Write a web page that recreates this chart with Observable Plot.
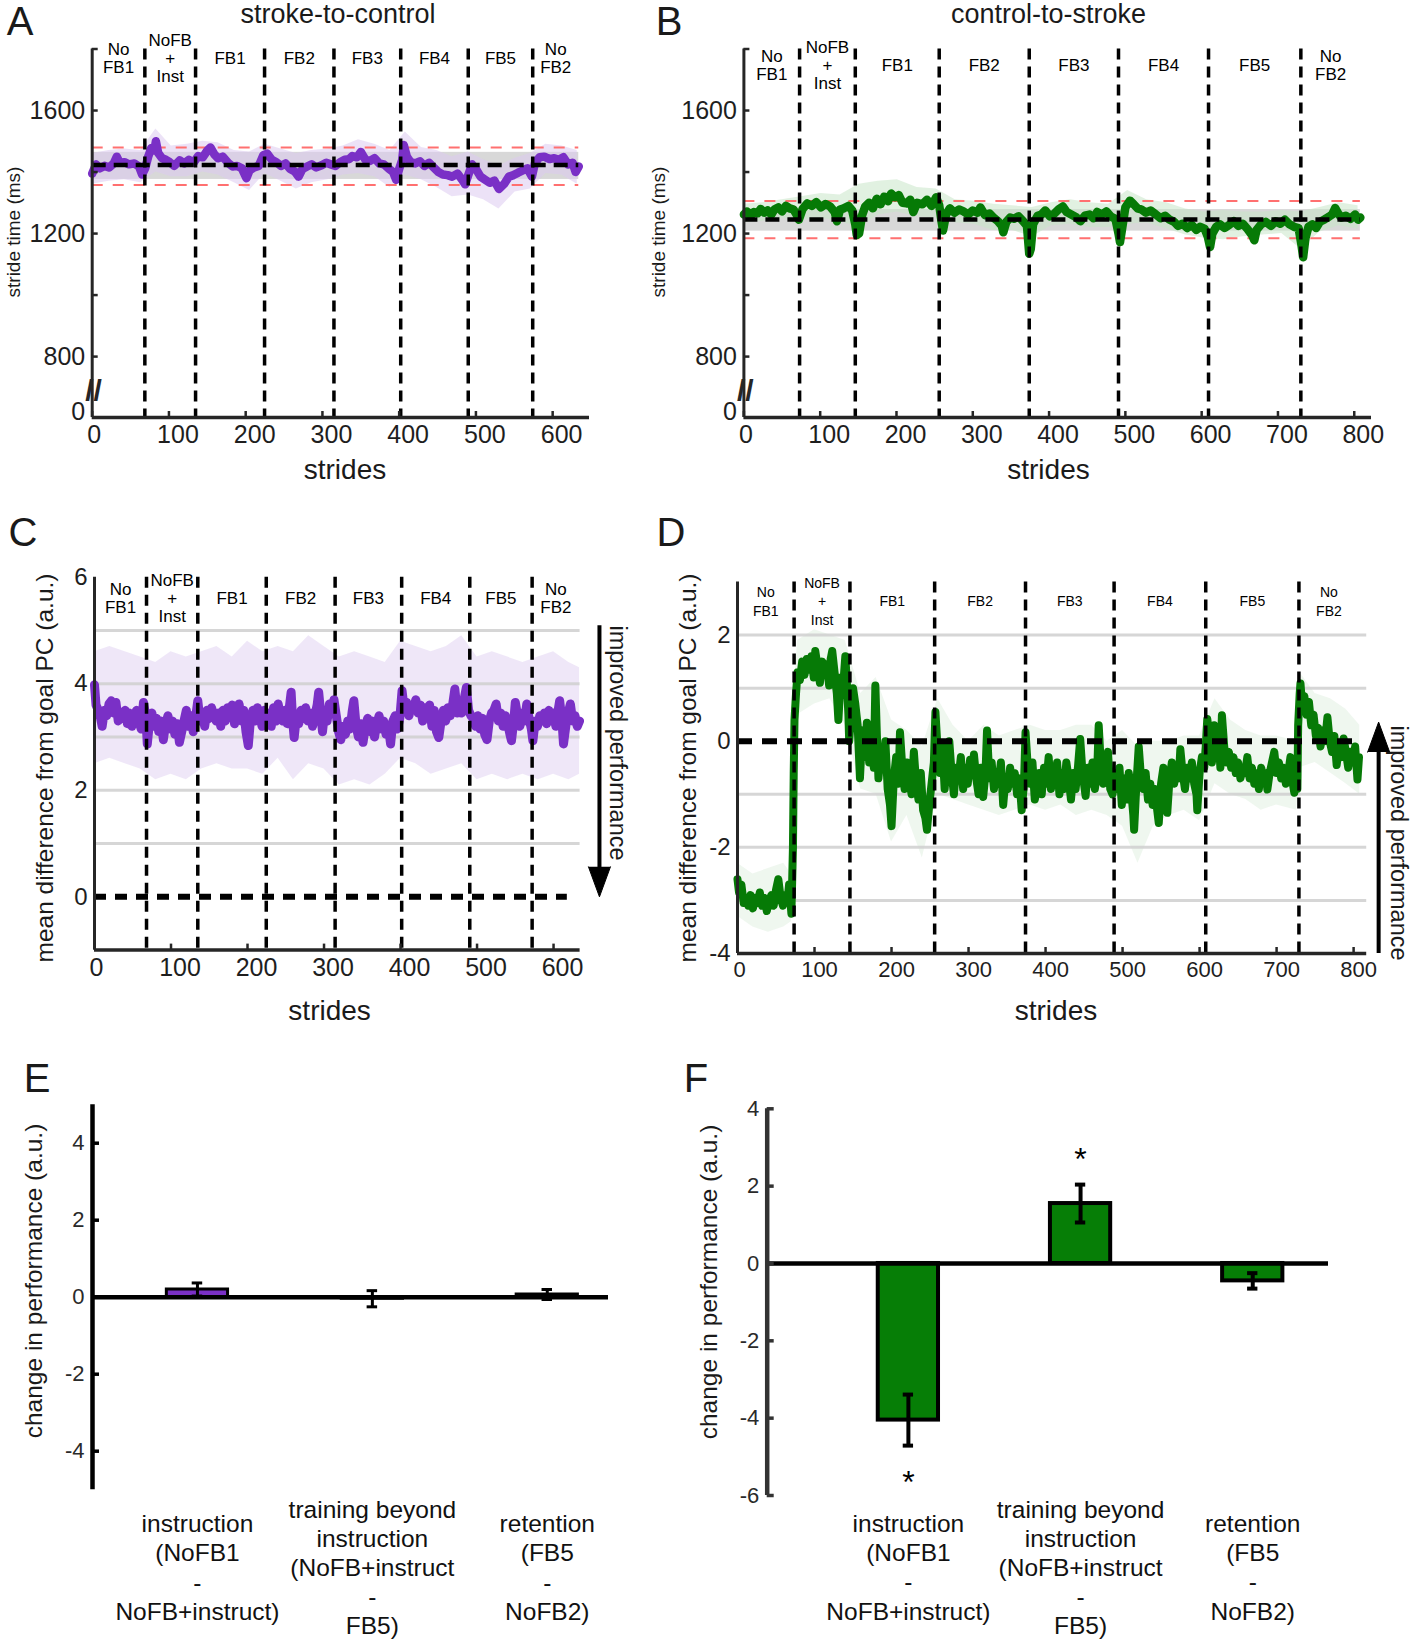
<!DOCTYPE html>
<html>
<head>
<meta charset="utf-8">
<script src="https://cdn.jsdelivr.net/npm/d3@7"></script>
<script src="https://cdn.jsdelivr.net/npm/@observablehq/plot@0.6"></script>
<style>
  html, body { margin: 0; padding: 0; background: #fff; }
  #fig { position: relative; width: 1412px; height: 1639px; overflow: hidden; background: #fff;
         font-family: "Liberation Sans", Arial, Helvetica, sans-serif; color: #1a1a1a; }
  #fig svg { position: absolute; }
  .lbl { position: absolute; white-space: nowrap; line-height: 1; }
</style>
</head>
<body>
<div id="fig"></div>
<script>
// ================= DATA =================
const segmentNames = ["No\nFB1", "NoFB\n+\nInst", "FB1", "FB2", "FB3", "FB4", "FB5", "No\nFB2"];

// ---- Panel A: stroke-to-control, stride time (ms) ----
const aBounds = [68.6, 134.7, 224.6, 315, 402, 490, 574];
const aSeries = [[0,1395],[5,1425],[10,1412],[16,1420],[22,1415],[28,1428],[32,1450],[36,1430],[42,1432],[48,1425],
 [55,1428],[61,1418],[65,1392],[69,1412],[73,1450],[77,1478],[81,1470],[83,1500],[86,1462],[91,1445],
 [96,1440],[101,1432],[107,1420],[114,1438],[120,1428],[126,1440],[132,1430],[138,1452],[144,1448],[150,1470],
 [154,1480],[159,1458],[164,1445],[170,1450],[177,1430],[183,1418],[189,1420],[195,1412],[201,1380],[205,1405],
 [211,1415],[217,1420],[223,1455],[228,1460],[234,1440],[240,1432],[246,1420],[252,1428],[258,1410],[264,1402],
 [269,1385],[274,1410],[280,1418],[286,1425],[292,1415],[299,1422],[305,1430],[311,1425],[317,1420],[323,1432],
 [329,1440],[335,1442],[339,1452],[345,1448],[350,1465],[356,1440],[362,1436],[368,1445],[374,1428],[380,1425],
 [386,1412],[392,1400],[396,1375],[400,1410],[404,1440],[406,1488],[410,1450],[415,1432],[421,1428],[427,1435],
 [433,1420],[439,1430],[445,1415],[451,1400],[457,1392],[463,1390],[469,1385],[476,1395],[482,1375],[486,1360],
 [490,1390],[495,1425],[500,1410],[506,1385],[512,1375],[518,1365],[524,1372],[530,1345],[537,1362],[543,1385],
 [549,1390],[555,1398],[561,1405],[567,1412],[573,1385],[577,1430],[583,1448],[589,1450],[596,1442],[602,1445],
 [608,1440],[614,1448],[620,1425],[626,1430],[630,1400],[634,1418]];
const aBand = [[0,1360,1460],[22,1370,1470],[42,1375,1475],[63,1365,1470],[83,1400,1540],[103,1385,1485],[124,1385,1490],
 [144,1400,1500],[164,1390,1495],[185,1365,1470],[205,1340,1465],[225,1395,1490],[246,1370,1475],[266,1345,1460],
 [286,1365,1470],[307,1375,1475],[327,1390,1485],[347,1395,1505],[368,1385,1490],[388,1350,1470],[408,1390,1530],
 [429,1375,1480],[449,1350,1470],[469,1320,1450],[490,1325,1465],[510,1310,1440],[530,1280,1420],[551,1335,1445],
 [571,1345,1460],[591,1395,1490],[612,1390,1485],[632,1360,1470]];
const aMean = [1423];
const aLimits = [1358, 1480];
const aGrayBand = [1376, 1464];

// ---- Panel B: control-to-stroke, stride time (ms) ----
const bBounds = [73, 146, 256, 374, 491, 609, 730];
const bSeries = [[0,1262],[4,1272],[9,1258],[13,1270],[18,1266],[22,1280],[27,1268],[31,1275],[36,1262],[40,1278],
 [45,1285],[50,1272],[55,1290],[60,1282],[65,1278],[69,1262],[72,1245],[77,1280],[83,1298],[89,1290],
 [95,1302],[101,1285],[107,1296],[113,1288],[119,1270],[122,1240],[126,1278],[131,1282],[137,1290],[142,1275],
 [146,1230],[148,1195],[151,1200],[155,1260],[159,1288],[164,1300],[169,1282],[174,1313],[179,1295],[184,1320],
 [189,1305],[193,1330],[198,1318],[203,1325],[208,1300],[213,1298],[218,1310],[222,1270],[227,1300],[234,1295],
 [240,1310],[246,1290],[252,1318],[256,1292],[259,1240],[261,1210],[265,1262],[270,1282],[276,1268],[282,1278],
 [288,1272],[294,1262],[300,1275],[306,1268],[310,1285],[316,1260],[322,1265],[328,1250],[333,1240],[338,1225],
 [340,1204],[344,1238],[349,1252],[354,1248],[360,1256],[366,1240],[371,1225],[374,1134],[376,1150],[379,1230],
 [385,1258],[390,1262],[395,1275],[401,1256],[407,1265],[413,1280],[418,1288],[423,1270],[429,1262],[435,1254],
 [441,1240],[447,1258],[453,1262],[458,1250],[463,1270],[469,1262],[475,1272],[481,1255],[487,1248],[491,1200],
 [493,1172],[496,1220],[500,1285],[506,1307],[511,1295],[516,1282],[521,1278],[527,1268],[533,1275],[540,1262],
 [546,1250],[552,1258],[558,1245],[564,1238],[569,1225],[575,1232],[581,1218],[587,1228],[593,1212],[598,1222],
 [604,1215],[608,1190],[611,1156],[614,1200],[619,1222],[624,1230],[630,1218],[636,1228],[642,1240],[648,1225],
 [654,1232],[660,1215],[666,1195],[669,1178],[672,1212],[678,1230],[684,1238],[691,1225],[697,1240],[703,1232],
 [709,1245],[715,1230],[721,1222],[727,1218],[731,1160],[733,1123],[736,1185],[740,1222],[745,1230],[750,1218],
 [755,1238],[761,1246],[767,1255],[771,1262],[775,1283],[779,1265],[783,1252],[789,1258],[795,1248],[801,1262],
 [805,1245],[808,1252]];
const bBand = [[0,1235,1295],[25,1240,1300],[50,1250,1310],[75,1245,1320],[101,1250,1330],[126,1240,1325],[151,1220,1360],
 [176,1260,1370],[201,1270,1375],[227,1255,1350],[252,1250,1345],[277,1235,1310],[302,1230,1305],[327,1210,1295],
 [352,1210,1290],[378,1190,1285],[403,1225,1300],[428,1230,1310],[453,1220,1300],[478,1220,1295],[503,1230,1340],
 [528,1235,1310],[554,1215,1300],[579,1195,1280],[604,1185,1270],[629,1180,1275],[654,1190,1270],[680,1195,1270],
 [705,1200,1275],[730,1150,1270],[755,1205,1285],[780,1225,1300],[805,1215,1290]];
const bMean = [1246];
const bLimits = [1185, 1306];
const bGrayBand = [1208, 1278];

// stride-time axis: broken axis, visible part spans 800..1800 ms, bottom of axis labelled 0
const timeTickMarks = [800, 1000, 1200, 1400, 1600, 1800];
const timeTickLabels = [800, 1200, 1600];
const timeBreakLabel = ["0"];
const strideTicks600 = [0, 100, 200, 300, 400, 500, 600];
const strideTicks800 = [0, 100, 200, 300, 400, 500, 600, 700, 800];

// ---- Panel C: stroke-to-control, mean difference from goal PC ----
const cBounds = [68, 135, 224.5, 314.5, 401.5, 490.5, 572];
const cSeries = [[0,3.98],[2,3.6],[5,3.5],[8,3.35],[10,3.2],[13,3.5],[16,3.4],[19,3.62],[22,3.68],[25,3.45],[28,3.65],[31,3.3],
 [34,3.45],[37,3.35],[40,3.5],[43,3.25],[46,3.45],[49,3.2],[52,3.4],[55,3.5],[58,3.3],[61,3.15],[64,3.65],[67,3.4],
 [69,2.87],[72,3.3],[75,3.45],[78,3.2],[81,3.35],[84,3.1],[87,3.3],[90,2.95],[93,3.25],[96,3.4],[99,3.15],[102,3.3],
 [105,3.05],[108,3.25],[111,2.9],[114,3.1],[117,3.3],[120,3.5],[123,3.2],[126,3.4],[129,3.1],[132,3.35],[135,3.68],
 [138,3.3],[141,3.45],[144,3.2],[147,3.5],[150,3.35],[153,3.55],[156,3.4],[159,3.3],[162,3.45],[165,3.2],[168,3.5],
 [171,3.3],[174,3.55],[177,3.4],[180,3.6],[183,3.25],[186,3.45],[189,3.62],[192,3.3],[195,3.5],[198,3.1],[201,2.84],
 [204,3.35],[207,3.5],[210,3.3],[213,3.55],[216,3.4],[219,3.2],[222,3.5],[225,3.35],[228,3.45],[231,3.2],[234,3.55],
 [237,3.3],[240,3.62],[243,3.4],[246,3.3],[249,3.5],[252,3.25],[255,3.6],[257,3.84],[259,3.3],[261,2.99],[264,3.4],
 [267,3.25],[270,3.5],[273,3.35],[276,3.55],[279,3.3],[282,3.45],[285,3.2],[288,3.4],[291,3.6],[293,3.84],[296,3.4],
 [298,3.1],[301,3.5],[304,3.3],[307,3.62],[310,3.45],[313,3.7],[316,3.4],[319,3.1],[322,2.95],[325,3.2],[328,3.05],
 [331,3.3],[334,3.15],[337,3.5],[339,3.68],[342,3.2],[345,3.0],[348,3.25],[351,2.9],[354,3.2],[357,3.35],[360,3.1],
 [363,3.3],[366,3.0],[369,3.25],[372,3.4],[375,3.15],[378,3.3],[381,3.05],[384,3.2],[387,2.87],[390,3.3],[393,3.4],
 [396,3.15],[399,3.35],[402,3.87],[405,3.5],[408,3.65],[411,3.4],[414,3.6],[417,3.55],[420,3.7],[423,3.45],[426,3.6],
 [429,3.3],[432,3.55],[435,3.4],[438,3.6],[441,3.2],[444,3.5],[447,3.1],[450,2.99],[453,3.3],[456,3.5],[459,3.3],
 [462,3.55],[465,3.4],[468,3.6],[471,3.9],[474,3.45],[477,3.6],[480,3.45],[483,3.7],[486,3.93],[489,3.5],[492,3.4],
 [495,3.35],[498,3.2],[501,3.4],[504,3.15],[507,3.35],[510,3.05],[513,2.95],[516,3.3],[519,3.45],[522,3.5],[525,3.62],
 [528,3.3],[531,3.45],[534,3.2],[537,3.4],[540,3.25],[543,3.05],[545,2.93],[548,3.3],[550,3.65],[553,3.4],[556,3.2],
 [559,3.45],[562,3.3],[565,3.62],[568,3.35],[571,3.15],[573,2.93],[576,3.3],[579,3.2],[582,3.4],[585,3.3],[588,3.45],
 [591,3.25],[594,3.5],[597,3.3],[600,3.45],[603,3.2],[606,3.5],[608,3.68],[611,3.3],[613,2.87],[616,3.2],[619,3.45],
 [622,3.62],[625,3.3],[628,3.4],[631,3.2],[634,3.3]];
const cBand = [[0,2.5,4.6],[20,2.6,4.7],[40,2.5,4.6],[60,2.4,4.5],[80,2.2,4.4],[100,2.3,4.6],[120,2.2,4.5],[140,2.4,4.6],
 [160,2.5,4.7],[180,2.4,4.5],[200,2.4,4.8],[220,2.3,4.6],[240,2.6,4.7],[260,2.2,4.6],[280,2.5,4.9],[300,2.4,4.7],
 [320,2.1,4.5],[340,2.2,4.6],[360,2.1,4.5],[380,2.3,4.4],[400,2.6,4.8],[420,2.5,4.7],[440,2.3,4.6],[460,2.4,4.7],
 [480,2.5,4.9],[500,2.2,4.5],[520,2.3,4.6],[540,2.2,4.5],[560,2.3,4.4],[580,2.2,4.5],[600,2.3,4.6],[620,2.2,4.4],[634,2.3,4.3]];
const cGrid = [1, 2, 3, 4, 5];
const cYTicks = [0, 2, 4, 6];

// ---- Panel D: control-to-stroke, mean difference from goal PC ----
const dBounds = [73.5, 146, 256, 374, 489, 608, 729];
const dSeries = [[0,-2.6],[2,-2.85],[5,-2.7],[8,-3.05],[11,-2.95],[14,-3.1],[17,-2.9],[20,-3.15],[23,-2.95],[26,-3.05],
 [29,-2.85],[32,-3.1],[35,-2.95],[38,-3.2],[41,-3.0],[44,-2.9],[47,-3.1],[50,-2.8],[53,-2.6],[56,-2.95],[59,-3.1],
 [62,-2.9],[65,-3.0],[67,-2.7],[70,-3.25],[72,-2.0],[73,-0.6],[74,0.4],[76,0.9],[78,1.3],[81,1.15],[84,1.5],[87,1.25],
 [90,1.55],[93,1.35],[96,1.6],[99,1.2],[101,1.7],[104,1.4],[107,1.1],[110,1.5],[113,1.25],[116,1.45],[119,1.05],
 [121,1.55],[123,1.7],[126,1.3],[129,0.9],[131,0.4],[134,1.2],[137,1.0],[140,1.6],[142,1.1],[144,0.5],[145,0.0],
 [147,0.4],[150,1.0],[153,0.7],[156,0.3],[159,-0.7],[162,0.2],[165,-0.3],[168,0.35],[171,-0.4],[174,-0.1],[177,-0.5],
 [179,1.05],[181,0.1],[183,-0.7],[186,-0.2],[189,-0.5],[192,0.0],[195,-0.9],[198,-1.2],[200,-1.6],[203,-0.7],[206,-0.3],
 [209,-0.8],[211,0.17],[214,-0.5],[217,-0.9],[220,-0.4],[223,-0.7],[226,-1.0],[229,-0.2],[232,-0.8],[235,-1.1],
 [238,-0.6],[241,-1.3],[244,-1.45],[246,-1.67],[249,-1.2],[252,-0.8],[255,-0.4],[257,0.55],[260,-0.2],[263,-0.6],
 [266,-0.1],[269,-0.9],[272,-0.3],[275,0.0],[278,-0.6],[281,-1.0],[284,-0.5],[287,-0.7],[290,-0.3],[293,-0.9],
 [296,-0.5],[299,-0.8],[302,-0.35],[305,-0.6],[307,-0.25],[310,-0.7],[313,-1.0],[316,-0.5],[319,-1.05],[322,-0.6],
 [324,0.2],[327,-0.7],[330,-0.4],[333,-0.9],[336,-0.6],[339,-0.8],[342,-0.4],[345,-1.2],[348,-0.7],[351,-0.9],
 [354,-0.5],[357,-0.8],[360,-0.6],[363,-1.0],[366,-0.7],[369,-1.3],[372,-0.8],[374,0.17],[377,-0.5],[380,-0.8],
 [383,-0.4],[386,-1.1],[389,-0.9],[392,-0.6],[395,-1.0],[398,-0.5],[401,-0.8],[404,-0.3],[407,-0.9],[410,-0.6],
 [413,-0.7],[415,-0.4],[418,-1.0],[421,-0.6],[424,-0.9],[427,-0.4],[430,-0.7],[433,-1.1],[436,-0.6],[439,-0.9],
 [442,-0.5],[445,0.04],[448,-0.6],[452,-1.03],[455,-0.5],[458,-0.8],[461,-0.4],[464,-0.9],[467,-0.6],[469,0.3],
 [472,-0.5],[475,-0.8],[478,-0.4],[481,-0.2],[484,-0.9],[487,-1.0],[490,-0.6],[493,-0.9],[496,-0.5],[499,-1.2],
 [502,-0.7],[505,-1.1],[508,-0.6],[511,-0.9],[514,-1.4],[515,-1.67],[518,-0.8],[521,-0.1],[524,-0.7],[527,-0.9],
 [530,-0.6],[533,-1.1],[536,-0.8],[539,-1.2],[542,-0.9],[545,-1.3],[547,-1.54],[550,-0.8],[553,-0.5],[556,-0.9],
 [558,-1.35],[561,-0.7],[564,-0.4],[567,-0.8],[570,-0.5],[573,-0.7],[575,-0.15],[578,-0.6],[581,-0.9],[584,-0.5],
 [587,-0.7],[590,-0.4],[593,-0.8],[596,-1.0],[597,-1.3],[600,-0.6],[603,-0.3],[606,-0.5],[608,-0.1],[610,0.42],
 [613,0.1],[616,-0.4],[619,0.3],[622,-0.2],[625,0.0],[627,-0.5],[629,0.49],[632,-0.1],[635,-0.4],[638,-0.2],
 [641,-0.5],[644,-0.3],[647,-0.6],[650,-0.4],[653,-0.7],[656,-0.5],[659,-0.6],[662,-0.3],[665,-0.7],[668,-0.5],
 [671,-0.8],[674,-0.6],[677,-0.9],[680,-0.5],[683,-0.7],[686,-0.6],[688,-0.91],[691,-0.6],[694,-0.4],[697,-0.2],
 [700,-0.6],[703,-0.4],[706,-0.7],[709,-0.5],[712,-0.8],[715,-0.6],[718,-0.3],[721,-0.8],[723,-0.97],[725,-0.6],
 [727,-0.9],[728,0.3],[730,0.9],[731,1.09],[733,0.7],[736,0.85],[739,0.5],[742,0.74],[745,0.3],[748,0.5],[751,0.1],
 [754,0.25],[757,-0.1],[760,0.2],[763,0.0],[766,0.45],[769,0.0],[772,-0.2],[775,0.1],[778,-0.45],[781,-0.1],
 [784,-0.3],[787,0.05],[790,-0.2],[793,-0.5],[796,-0.2],[799,-0.4],[802,-0.1],[805,-0.72],[807,-0.3]];
const dBand = [[0,-3.3,-2.3],[20,-3.5,-2.5],[40,-3.6,-2.4],[60,-3.5,-2.3],[70,-3.4,-2.5],[74,-1.0,1.0],[78,0.5,1.9],
 [100,0.7,2.1],[120,0.8,2.0],[140,0.3,1.9],[160,-0.9,0.9],[180,-1.0,1.2],[200,-1.9,0.4],[220,-1.4,0.2],[240,-2.2,-0.1],
 [260,-1.0,0.8],[280,-1.1,0.3],[300,-1.2,0.0],[320,-1.3,0.3],[340,-1.4,0.1],[360,-1.3,0.2],[380,-1.2,0.3],[400,-1.3,0.2],
 [420,-1.2,0.2],[440,-1.4,0.3],[460,-1.3,0.3],[480,-1.4,0.0],[500,-1.6,0.2],[520,-2.3,-0.1],[540,-1.6,0.0],[560,-1.4,0.0],
 [580,-1.3,0.1],[600,-1.5,0.1],[620,-0.8,0.8],[640,-1.0,0.4],[660,-1.1,0.2],[680,-1.3,0.1],[700,-1.2,0.1],[726,-1.3,0.0],
 [730,-0.5,1.3],[750,-0.4,0.9],[770,-0.6,0.8],[790,-0.8,0.6],[808,-1.0,0.3]];
const dGrid = [2, 1, -1, -2, -3];
const dYTicks = [-4, -2, 0, 2];

// ---- Panels E / F: change in performance ----
const barCategories = [
  "instruction\n(NoFB1\n-\nNoFB+instruct)",
  "training beyond\ninstruction\n(NoFB+instruct\n-\nFB5)",
  "retention\n(FB5\n-\nNoFB2)"
];
const eValues = [0.2, -0.04, 0.07];
const eErrors = [0.17, 0.21, 0.13];
const fValues = [-4.05, 1.55, -0.45];
const fErrors = [0.66, 0.49, 0.2];
const fStarCategory = [1, 2];
const fStarValue = [-5.5, 2.86];
const eYTicks = [-4, -2, 0, 2, 4];
const fYTicks = [-6, -4, -2, 0, 2, 4];

// ================= STYLE =================
const FONT = '"Liberation Sans", Arial, Helvetica, sans-serif';
const PURPLE = "#7a30c6", PURPLE_LIGHT = "#dccaf0", GREEN = "#067a06", GREEN_LIGHT = "#c9e6c9";
const AXIS = "#262626";
const baseStyle = {fontFamily: FONT, background: "transparent", overflow: "visible", color: "#1a1a1a"};
const vDash = {stroke: "#000", strokeWidth: 3.5, strokeDasharray: "11,7"};
const fig = document.getElementById("fig");

function place(svg, left, top) {
  svg.style.left = left + "px";
  svg.style.top = top + "px";
  fig.appendChild(svg);
}
function addText(str, x, y, size, rotate = 0) {
  const el = document.createElement("div");
  el.className = "lbl";
  el.textContent = str;
  el.style.left = x + "px";
  el.style.top = y + "px";
  el.style.fontSize = size + "px";
  el.style.transform = `translate(-50%,-50%) rotate(${rotate}deg)`;
  fig.appendChild(el);
}
function segLabels(bounds, end) {
  const edges = [0, ...bounds, end];
  return segmentNames.map((name, i) => ({name, x: (edges[i] + edges[i + 1]) / 2}));
}

// ---------- stride-time panels (A, B) ----------
const TIME_DOMAIN = [602, 1800]; // broken axis: bottom edge stands for 0
function strideTimePanel(o) {
  const data = o.series.map(([s, v]) => ({s, v}));
  const band = o.band.map(([s, lo, hi]) => ({s, lo, hi}));
  const end = data[data.length - 1].s;
  const ticksRest = o.xTicks.filter(t => t !== 0);
  return Plot.plot({
    width: o.w, height: o.h,
    marginLeft: o.ml, marginRight: o.mr, marginTop: o.mt, marginBottom: o.mb,
    style: baseStyle,
    x: {domain: [0, o.xMax], axis: null},
    y: {domain: TIME_DOMAIN, axis: null},
    marks: [
      Plot.rect([o.gray], {x1: 0, x2: end, y1: d => d[0], y2: d => d[1], fill: "#d8d8d8"}),
      Plot.areaY(band, {x: "s", y1: "lo", y2: "hi", fill: o.light, fillOpacity: 0.55}),
      Plot.ruleY(o.limits, {x1: 0, x2: end, stroke: "#ff7070", strokeWidth: 2, strokeDasharray: "11,10"}),
      Plot.line(data, {x: "s", y: "v", stroke: o.color, strokeWidth: 8.5, strokeLinejoin: "round", strokeLinecap: "round"}),
      Plot.ruleX(o.bounds, vDash),
      Plot.ruleY(o.mean, {x1: 0, x2: end, stroke: "#000", strokeWidth: 4.5, strokeDasharray: "14,8"}),
      Plot.ruleX([0], {stroke: AXIS, strokeWidth: 3}),
      Plot.ruleY([TIME_DOMAIN[0]], {stroke: AXIS, strokeWidth: 3.5}),
      Plot.axisY(timeTickMarks, {tickSize: -6, fill: null, stroke: AXIS, strokeWidth: 2.5, label: null}),
      Plot.axisY(timeTickLabels, {tickSize: 0, tickPadding: 7, tickFormat: d => String(d), fontSize: 25, fill: "#1e1e1e", label: null}),
      Plot.text(timeBreakLabel, {frameAnchor: "bottom-left", text: d => d, textAnchor: "end", dx: -7, dy: 2, fontSize: 25, fill: "#1e1e1e"}),
      Plot.text(["//"], {frameAnchor: "bottom-left", text: d => d, dx: -7, dy: -17, fontSize: 30, fontWeight: "bold", fill: AXIS}),
      Plot.axisX(o.xTicks, {tickSize: -6, fill: null, stroke: AXIS, strokeWidth: 2.5, label: null}),
      Plot.axisX([0], {tickSize: 0, tickPadding: 8, dx: 2, tickFormat: d => String(d), fontSize: 25, fill: "#1e1e1e", label: null}),
      Plot.axisX(ticksRest, {tickSize: 0, tickPadding: 8, dx: 9, tickFormat: d => String(d), fontSize: 25, fill: "#1e1e1e", label: null}),
      Plot.text(segLabels(o.bounds, end), {x: "x", text: "name", frameAnchor: "top", dy: o.segDy,
        lineAnchor: "middle", lineHeight: 1.06, fontSize: 17, fill: "#000"})
    ]
  });
}

place(strideTimePanel({series: aSeries, band: aBand, mean: aMean, limits: aLimits, gray: aGrayBand, bounds: aBounds,
  xMax: 648, xTicks: strideTicks600, color: PURPLE, light: PURPLE_LIGHT,
  w: 640, h: 500, ml: 91.7, mr: 51, mt: 48.5, mb: 83, segDy: 9}), 0, 0);

place(strideTimePanel({series: bSeries, band: bBand, mean: bMean, limits: bLimits, gray: bGrayBand, bounds: bBounds,
  xMax: 822.6, xTicks: strideTicks800, color: GREEN, light: GREEN_LIGHT,
  w: 752, h: 500, ml: 83.4, mr: 41, mt: 48.5, mb: 83, segDy: 16.5}), 660, 0);

// ---------- goal-PC panels (C, D) ----------
function pcPanel(o) {
  const data = o.series.map(([s, v]) => ({s, v}));
  const band = o.band.map(([s, lo, hi]) => ({s, lo, hi}));
  const end = data[data.length - 1].s;
  const ticksRest = o.xTicks.filter(t => t !== 0);
  return Plot.plot({
    width: o.w, height: o.h,
    marginLeft: o.ml, marginRight: o.mr, marginTop: o.mt, marginBottom: o.mb,
    style: baseStyle,
    x: {domain: [0, o.xMax], axis: null},
    y: {domain: o.yDomain, axis: null},
    marks: [
      Plot.areaY(band, {x: "s", y1: "lo", y2: "hi", fill: o.light, fillOpacity: o.bandOpacity}),
      Plot.ruleY(o.grid, {stroke: "#cfcfcf", strokeWidth: 3, strokeOpacity: 0.85}),
      Plot.line(data, {x: "s", y: "v", stroke: o.color, strokeWidth: o.lineW, strokeLinejoin: "round", strokeLinecap: "round"}),
      Plot.ruleX(o.bounds, vDash),
      Plot.ruleY([0], {x1: 0, x2: o.zeroEnd, stroke: "#000", strokeWidth: 6, strokeDasharray: o.zeroDash}),
      Plot.ruleX([0], {stroke: AXIS, strokeWidth: 3}),
      Plot.ruleY([o.yDomain[0]], {stroke: AXIS, strokeWidth: 3.5}),
      Plot.axisY(o.yTicks, {tickSize: 0, tickPadding: 7, tickFormat: d => String(d), fontSize: 24, fill: "#1e1e1e", label: null}),
      Plot.axisX(o.xTicks, {tickSize: -6, fill: null, stroke: AXIS, strokeWidth: 2.5, label: null}),
      Plot.axisX([0], {tickSize: 0, tickPadding: 8, dx: 2, tickFormat: d => String(d), fontSize: o.tickFont, fill: "#1e1e1e", label: null}),
      Plot.axisX(ticksRest, {tickSize: 0, tickPadding: 8, dx: o.tickDx, tickFormat: d => String(d), fontSize: o.tickFont, fill: "#1e1e1e", label: null}),
      Plot.text(segLabels(o.bounds, end), {x: "x", text: "name", frameAnchor: "top", dy: o.segDy,
        lineAnchor: "middle", lineHeight: o.segLH, fontSize: o.segFont, fill: "#000"}),
      // "improved performance" arrow
      Plot.ruleX([o.arrow.x], {y1: o.arrow.from, y2: o.arrow.to, stroke: "#000", strokeWidth: 4}),
      Plot.vector([o.arrow.x], {x: d => d, y: o.arrow.tip, anchor: "end", rotate: o.arrow.rotate, length: 30, r: 11,
        shape: "spike", fill: "#000", stroke: "#000", strokeWidth: 1, fillOpacity: 1})
    ]
  });
}

place(pcPanel({series: cSeries, band: cBand, bounds: cBounds, grid: cGrid, zeroEnd: 618, zeroDash: "12,9",
  xMax: 634.7, yDomain: [-1, 6], xTicks: strideTicks600, yTicks: cYTicks, color: PURPLE, light: PURPLE_LIGHT, bandOpacity: 0.45,
  lineW: 9, w: 660, h: 520, ml: 94, mr: 80.4, mt: 66.7, mb: 80.4, segDy: 21.5, segLH: 1.06, segFont: 17, tickFont: 25, tickDx: 9,
  arrow: {x: 660, from: 5.09, to: 0.4, tip: 0, rotate: 180}}), 0, 510);

place(pcPanel({series: dSeries, band: dBand, bounds: dBounds, grid: dGrid, zeroEnd: 804, zeroDash: "15,10",
  xMax: 817, yDomain: [-4, 3], xTicks: strideTicks800, yTicks: dYTicks, color: GREEN, light: GREEN_LIGHT, bandOpacity: 0.3,
  lineW: 8, w: 752, h: 520, ml: 77, mr: 45.8, mt: 71.5, mb: 77, segDy: 18.5, segLH: 1.32, segFont: 14, tickFont: 22, tickDx: 5,
  arrow: {x: 832.5, from: -4, to: -0.1, tip: 0.36, rotate: 0}}), 660, 510);

// ---------- bar panels (E, F) ----------
const BAR_HALF = 0.175, CAP_HALF = 0.03;
function barPanel(o) {
  const data = barCategories.map((name, i) => ({i: i + 1, name, v: o.values[i], e: o.errors[i]}));
  const stars = (o.starCat || []).map((c, k) => ({i: c, y: o.starVal[k]}));
  return Plot.plot({
    width: o.w, height: o.h,
    marginLeft: o.ml, marginRight: o.mr, marginTop: o.mt, marginBottom: o.mb,
    style: baseStyle,
    x: {domain: o.xDomain, axis: null},
    y: {domain: o.yDomain, axis: null},
    marks: [
      Plot.rectY(data, {x1: d => d.i - BAR_HALF, x2: d => d.i + BAR_HALF, y1: 0, y2: "v",
        fill: o.color, stroke: "#000", strokeWidth: o.barStroke}),
      Plot.ruleY([0], {stroke: "#000", strokeWidth: 4.5}),
      Plot.ruleX(data, {x: "i", y1: d => d.v - d.e, y2: d => d.v + d.e, stroke: "#000", strokeWidth: o.errW}),
      Plot.ruleY(data, {y: d => d.v + d.e, x1: d => d.i - CAP_HALF, x2: d => d.i + CAP_HALF, stroke: "#000", strokeWidth: o.errW}),
      Plot.ruleY(data, {y: d => d.v - d.e, x1: d => d.i - CAP_HALF, x2: d => d.i + CAP_HALF, stroke: "#000", strokeWidth: o.errW}),
      Plot.text(stars, {x: "i", y: "y", text: () => "*", fontSize: 32, dy: 7, fill: "#000"}),
      Plot.ruleX([o.xDomain[0]], {stroke: o.axisColor, strokeWidth: 4.5}),
      Plot.axisY(o.yTicks, {tickSize: -7, fill: null, stroke: o.axisColor, strokeWidth: 3.5, label: null}),
      Plot.axisY(o.yTicks, {tickSize: 0, tickPadding: 8, tickFormat: d => String(d), fontSize: 22, fill: "#2a2a2a", label: null}),
      Plot.text(data, {x: "i", text: "name", frameAnchor: "bottom", dy: o.labelDy, lineAnchor: "middle",
        lineHeight: 1.19, fontSize: 24.5, fill: "#111"})
    ]
  });
}

place(barPanel({values: eValues, errors: eErrors, xDomain: [0.4, 3.35], yDomain: [-5, 5], yTicks: eYTicks,
  color: PURPLE, barStroke: 3, errW: 3, axisColor: "#000",
  w: 660, h: 599, ml: 92, mr: 52, mt: 64.2, mb: 149.8, labelDy: 77}), 0, 1040);

place(barPanel({values: fValues, errors: fErrors, starCat: fStarCategory, starVal: fStarValue,
  xDomain: [0.18, 3.44], yDomain: [-6, 4], yTicks: fYTicks,
  color: "#067e06", barStroke: 4, errW: 4, axisColor: "#333",
  w: 752, h: 599, ml: 106.7, mr: 84, mt: 68.3, mb: 144, labelDy: 71}), 660, 1040);

// ---------- HTML annotations ----------
addText("A", 20, 21, 40);
addText("B", 669, 21, 40);
addText("C", 23, 532, 40);
addText("D", 671, 532, 40);
addText("E", 37, 1078, 40);
addText("F", 696, 1078, 40);
addText("stroke-to-control", 338, 14, 27);
addText("control-to-stroke", 1048.6, 14, 27);
addText("stride time (ms)", 13, 231.7, 19, -90);
addText("stride time (ms)", 658, 231.7, 19, -90);
addText("strides", 345, 469.5, 28);
addText("strides", 1048.5, 469.5, 28);
addText("mean difference from goal PC (a.u.)", 45, 767.5, 24.5, -90);
addText("mean difference from goal PC (a.u.)", 688, 767.5, 24.5, -90);
addText("strides", 329.6, 1010.5, 28);
addText("strides", 1056, 1010.5, 28);
addText("improved performance", 617, 743, 23.5, 90);
addText("improved performance", 1398, 843, 23.5, 90);
addText("change in performance (a.u.)", 34, 1280.5, 24.5, -90);
addText("change in performance (a.u.)", 709, 1281.5, 24.5, -90);
</script>
</body>
</html>
